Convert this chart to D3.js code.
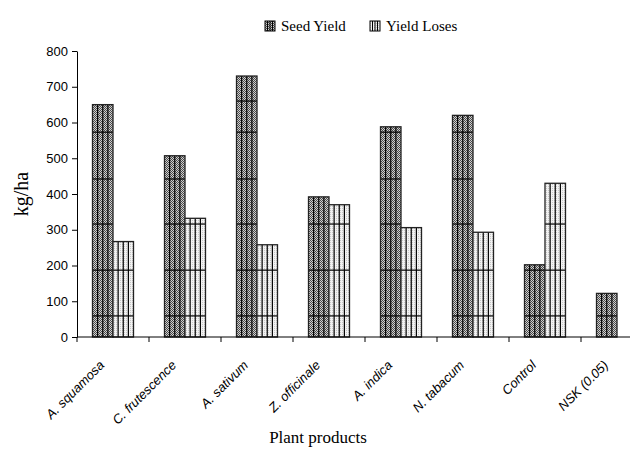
<!DOCTYPE html>
<html>
<head>
<meta charset="utf-8">
<script src="https://cdn.jsdelivr.net/npm/d3@7"></script>
<style>
  body { margin: 0; background: #fff; }
  svg { display: block; }
</style>
</head>
<body>
<div id="chart"></div>
<script>
const categories = ["A. squamosa", "C. frutescence", "A. sativum", "Z. officinale", "A. indica", "N. tabacum", "Control", "NSK (0.05)"];
const seedYield = [650, 507, 730, 392, 588, 620, 202, 122];
const yieldLoses = [267, 332, 258, 370, 306, 293, 430, null];
const yTicks = [0, 100, 200, 300, 400, 500, 600, 700, 800];
// horizontal rule levels that show through the fill pattern
const bandLines = [59, 187, 316, 442, 573, 660];

const W = 630, H = 449;
const margin = {top: 51, left: 77, bottom: 112};

const svg = d3.select("#chart").append("svg")
    .attr("width", W).attr("height", H);

const defs = svg.append("defs");
const seedPat = defs.append("pattern")
    .attr("id", "seedPat").attr("patternUnits", "userSpaceOnUse")
    .attr("width", 2).attr("height", 2);
seedPat.append("rect").attr("width", 2).attr("height", 2).attr("fill", "#d0d0d0");
seedPat.append("rect").attr("width", 1).attr("height", 1).attr("fill", "#4a4a4a");
seedPat.append("rect").attr("x", 1).attr("y", 1).attr("width", 1).attr("height", 1).attr("fill", "#4a4a4a");

const lossPat = defs.append("pattern")
    .attr("id", "lossPat").attr("patternUnits", "userSpaceOnUse")
    .attr("width", 2).attr("height", 2);
lossPat.append("rect").attr("width", 2).attr("height", 2).attr("fill", "#f2f2f2");
lossPat.append("rect").attr("width", 1).attr("height", 1).attr("fill", "#c8c8c8");

const x = d3.scaleBand().domain(categories).range([margin.left, margin.left + 72 * categories.length]);
const y = d3.scaleLinear().domain([0, 800]).range([H - margin.bottom, margin.top]);
const barW = 20.5;

// axes
const yAxis = svg.append("g")
    .attr("transform", `translate(${margin.left},0)`)
    .call(d3.axisLeft(y).tickValues(yTicks).tickSize(5).tickSizeOuter(0).tickPadding(4));
yAxis.select(".domain").attr("stroke", "#000");
yAxis.selectAll("text").attr("font-family", "Liberation Sans, Arial, sans-serif")
    .attr("font-size", 13).attr("fill", "#000");

const bars = [];
categories.forEach((c, i) => {
    const cx = x(c) + x.bandwidth() / 2;
    bars.push({x: cx - barW, v: seedYield[i], kind: "seed"});
    if (yieldLoses[i] != null) bars.push({x: cx, v: yieldLoses[i], kind: "loss"});
});

const g = svg.append("g");
bars.forEach(b => {
    const top = y(b.v), bot = y(0);
    const bg = g.append("g");
    bg.append("rect")
        .attr("x", b.x).attr("y", top)
        .attr("width", barW).attr("height", bot - top)
        .attr("fill", b.kind === "seed" ? "url(#seedPat)" : "url(#lossPat)");
    [0.25, 0.5, 0.75].forEach(f => {
        bg.append("line")
            .attr("x1", b.x + barW * f).attr("x2", b.x + barW * f)
            .attr("y1", top).attr("y2", bot)
            .attr("stroke", "#000").attr("stroke-width", 1.2);
    });
    bandLines.filter(v => v < b.v).forEach(v => {
        bg.append("line")
            .attr("x1", b.x).attr("x2", b.x + barW)
            .attr("y1", y(v)).attr("y2", y(v))
            .attr("stroke", "#000").attr("stroke-width", 1.2);
    });
    bg.append("rect")
        .attr("x", b.x).attr("y", top)
        .attr("width", barW).attr("height", bot - top)
        .attr("fill", "none").attr("stroke", "#222").attr("stroke-width", 1.3);
});

// x axis
svg.append("line")
    .attr("x1", margin.left).attr("x2", W)
    .attr("y1", y(0)).attr("y2", y(0))
    .attr("stroke", "#000");
categories.forEach(c => {
    svg.append("line")
        .attr("x1", x(c)).attr("x2", x(c))
        .attr("y1", y(0)).attr("y2", y(0) + 5)
        .attr("stroke", "#000");
});

svg.append("g").selectAll("text")
    .data(categories)
    .enter().append("text")
    .attr("transform", d => `translate(${x(d) + x.bandwidth() / 2 - 8},${y(0) + 29}) rotate(-45)`)
    .attr("text-anchor", "end")
    .attr("font-family", "Liberation Sans, Arial, sans-serif")
    .attr("font-style", "italic")
    .attr("font-size", 13)
    .text(d => d);

// titles
svg.append("text")
    .attr("transform", `translate(28,${(y(0) + y(800)) / 2}) rotate(-90)`)
    .attr("text-anchor", "middle")
    .attr("font-family", "Liberation Serif, Times New Roman, serif")
    .attr("font-size", 20)
    .text("kg/ha");

svg.append("text")
    .attr("x", 318).attr("y", 443)
    .attr("text-anchor", "middle")
    .attr("font-family", "Liberation Serif, Times New Roman, serif")
    .attr("font-size", 17)
    .text("Plant products");

// legend
const legendItems = [
    {label: "Seed Yield", kind: "seed", x: 265},
    {label: "Yield Loses", kind: "loss", x: 370}
];
legendItems.forEach(l => {
    const lg = svg.append("g").attr("transform", `translate(${l.x},21)`);
    lg.append("rect").attr("width", 10).attr("height", 10)
        .attr("fill", l.kind === "seed" ? "url(#seedPat)" : "url(#lossPat)");
    [2.5, 5, 7.5].forEach(f => {
        lg.append("line").attr("x1", f).attr("x2", f).attr("y1", 0).attr("y2", 10)
            .attr("stroke", "#000").attr("stroke-width", 1);
    });
    lg.append("rect").attr("width", 10).attr("height", 10)
        .attr("fill", "none").attr("stroke", "#000");
    lg.append("text")
        .attr("x", 16).attr("y", 10)
        .attr("font-family", "Liberation Serif, Times New Roman, serif")
        .attr("font-size", 15)
        .text(l.label);
});
</script>
</body>
</html>
